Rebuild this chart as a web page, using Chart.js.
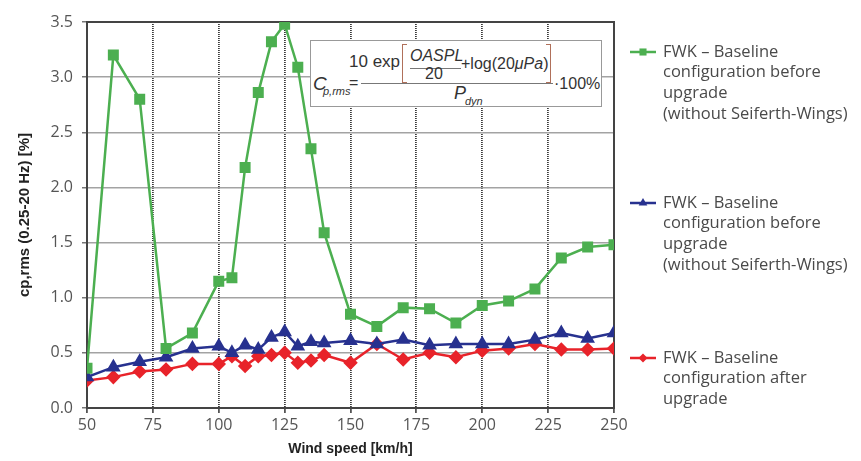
<!DOCTYPE html>
<html>
<head>
<meta charset="utf-8">
<script src="https://cdn.jsdelivr.net/npm/chart.js@4"></script>
<style>
  body { margin: 0; background: #fff; }
  #wrap { position: relative; width: 861px; height: 461px; }
  #formula {
    position: absolute; left: 310px; top: 40px; width: 292px; height: 67px;
    background: #fff; border: 1.5px solid #999; box-sizing: border-box;
    font-family: "Liberation Sans", Arial, sans-serif; color: #333;
  }
  #formula span { position: absolute; line-height: 1; transform: translateY(-50%); white-space: nowrap; }
  #formula .rule { position: absolute; height: 0; border-top: 1.2px solid #777; }
  #formula .brk { position: absolute; width: 4px; border: 1.2px solid #b0705a; }
</style>
</head>
<body>
<div id="wrap">
  <canvas id="chartCp" width="861" height="461"></canvas>
  <div id="formula">
    <span style="left:2px; top:42px; font-size:19px;"><i>C</i></span>
    <span style="left:12px; top:50px; font-size:11px;"><i>p,rms</i></span>
    <span style="left:38px; top:42px; font-size:16px;">=</span>
    <span style="left:38px; top:20px; font-size:17px;">10 exp</span>
    <div class="brk" style="left:91px; top:3px; height:37px; border-right:none;"></div>
    <span style="left:99px; top:15px; font-size:16px;"><i>OASPL</i></span>
    <div class="rule" style="left:99px; top:27px; width:51px;"></div>
    <span style="left:114px; top:33px; font-size:16px;">20</span>
    <span style="left:150px; top:23px; font-size:16px;">+log(20<i>μPa</i>)</span>
    <div class="brk" style="left:235px; top:3px; height:37px; border-left:none;"></div>
    <div class="rule" style="left:50px; top:42px; width:192px;"></div>
    <span style="left:143px; top:52px; font-size:18px;"><i>P</i></span>
    <span style="left:154px; top:60px; font-size:11px;"><i>dyn</i></span>
    <span style="left:243px; top:43px; font-size:16px;">·100%</span>
  </div>
</div>
<script>
const ctx_cp = document.getElementById("chartCp");

const windSpeed = [50, 60, 70, 80, 90, 100, 105, 110, 115, 120, 125, 130, 135, 140, 150, 160, 170, 180, 190, 200, 210, 220, 230, 240, 250];
const cpBeforeGreen = [0.36, 3.20, 2.80, 0.54, 0.68, 1.15, 1.18, 2.18, 2.86, 3.32, 3.48, 3.09, 2.35, 1.59, 0.85, 0.74, 0.91, 0.90, 0.77, 0.93, 0.97, 1.08, 1.36, 1.46, 1.48];
const cpBeforeBlue = [0.28, 0.37, 0.42, 0.46, 0.54, 0.56, 0.50, 0.57, 0.53, 0.64, 0.69, 0.56, 0.60, 0.59, 0.61, 0.58, 0.62, 0.57, 0.58, 0.58, 0.58, 0.62, 0.68, 0.63, 0.68];
const cpAfterRed = [0.25, 0.28, 0.33, 0.35, 0.40, 0.40, 0.47, 0.38, 0.47, 0.48, 0.50, 0.41, 0.43, 0.48, 0.41, 0.58, 0.44, 0.50, 0.46, 0.52, 0.54, 0.58, 0.53, 0.53, 0.54];
const xTicks = [50, 75, 100, 125, 150, 175, 200, 225, 250];
const yTicks = [0.0, 0.5, 1.0, 1.5, 2.0, 2.5, 3.0, 3.5];
const legendLines = [
  ["FWK – Baseline", "configuration before", "upgrade", "(without Seiferth-Wings)"],
  ["FWK – Baseline", "configuration before", "upgrade", "(without Seiferth-Wings)"],
  ["FWK – Baseline", "configuration after", "upgrade"],
];

const greenColor = "#4caf50";
const blueColor = "#27318f";
const redColor = "#e8232a";
const fontName = "'Open Sans', sans-serif";

const toPoints = (vals) => vals.map((v, i) => ({ x: windSpeed[i], y: v }));

// frame round the plot area + legend at the right
const framePlugin = {
  id: "frame",
  beforeDatasetsDraw(chart) {
    const { ctx, chartArea: a } = chart;
    ctx.save();
    ctx.strokeStyle = "#444";
    ctx.lineWidth = 2;
    ctx.strokeRect(a.left, a.top, a.right - a.left, a.bottom - a.top);
    ctx.restore();
  },
  afterDraw(chart) {
    const { ctx } = chart;
    const startY = [52, 203, 358];
    ctx.save();
    chart.data.datasets.forEach((ds, i) => {
      const y = startY[i];
      ctx.strokeStyle = ds.borderColor;
      ctx.lineWidth = 2.5;
      ctx.beginPath();
      ctx.moveTo(630, y);
      ctx.lineTo(656, y);
      ctx.stroke();
      ctx.fillStyle = ds.borderColor;
      Chart.helpers.drawPoint(ctx, { pointStyle: ds.pointStyle, radius: ds.pointRadius - 1, borderWidth: 0 }, 643, y);
      ctx.fillStyle = "#4a4a4a";
      ctx.font = "16.5px " + fontName;
      ctx.textBaseline = "middle";
      legendLines[i].forEach((t, j) => ctx.fillText(t, 663, y + j * 20.7));
    });
    ctx.restore();
  },
};

new Chart(ctx_cp, {
  type: "line",
  data: {
    datasets: [
      {
        label: legendLines[0].join(" "),
        data: toPoints(cpBeforeGreen),
        borderColor: greenColor,
        backgroundColor: greenColor,
        pointStyle: "rect",
        pointRadius: 6,
        borderWidth: 2.5,
      },
      {
        label: legendLines[1].join(" "),
        data: toPoints(cpBeforeBlue),
        borderColor: blueColor,
        backgroundColor: blueColor,
        pointStyle: "triangle",
        pointRadius: 6,
        borderWidth: 2.5,
      },
      {
        label: legendLines[2].join(" "),
        data: toPoints(cpAfterRed),
        borderColor: redColor,
        backgroundColor: redColor,
        pointStyle: "rectRot",
        pointRadius: 5.5,
        borderWidth: 2.5,
      },
    ],
  },
  options: {
    responsive: false,
    animation: false,
    layout: { padding: { top: 22, right: 247, left: 0, bottom: 3 } },
    plugins: { legend: { display: false }, tooltip: { enabled: false } },
    scales: {
      x: {
        type: "linear",
        min: 50,
        max: 250,
        afterBuildTicks: (s) => { s.ticks = xTicks.map((v) => ({ value: v })); },
        afterFit: (s) => { s.height = 50; },
        ticks: { color: "#555", font: { family: fontName, size: 16 }, padding: 3 },
        grid: { color: "#3a3a3a", lineWidth: 1.8, tickLength: 5, tickColor: "#555" },
        border: { color: "#444", width: 2, dash: [1, 1] },
        title: {
          display: true,
          text: "Wind speed [km/h]",
          color: "#222",
          font: { family: "'Liberation Sans', Arial, sans-serif", size: 14, weight: "bold" },
          padding: { top: 0, bottom: 0 },
        },
      },
      y: {
        min: 0,
        max: 3.5,
        afterBuildTicks: (s) => { s.ticks = yTicks.map((v) => ({ value: v })); },
        afterFit: (s) => { s.width = 87; },
        ticks: { color: "#555", font: { family: fontName, size: 16 }, padding: 9, callback: (v) => v.toFixed(1) },
        grid: { color: "#a3a3a3", lineWidth: 1.5, tickLength: 5, tickColor: "#777" },
        border: { color: "#444", width: 2 },
        title: {
          display: true,
          text: "cp,rms (0.25-20 Hz) [%]",
          color: "#222",
          font: { family: "'Liberation Sans', Arial, sans-serif", size: 15, weight: "bold" },
          padding: { top: 16, bottom: 0 },
        },
      },
    },
  },
  plugins: [framePlugin],
});
</script>
</body>
</html>
